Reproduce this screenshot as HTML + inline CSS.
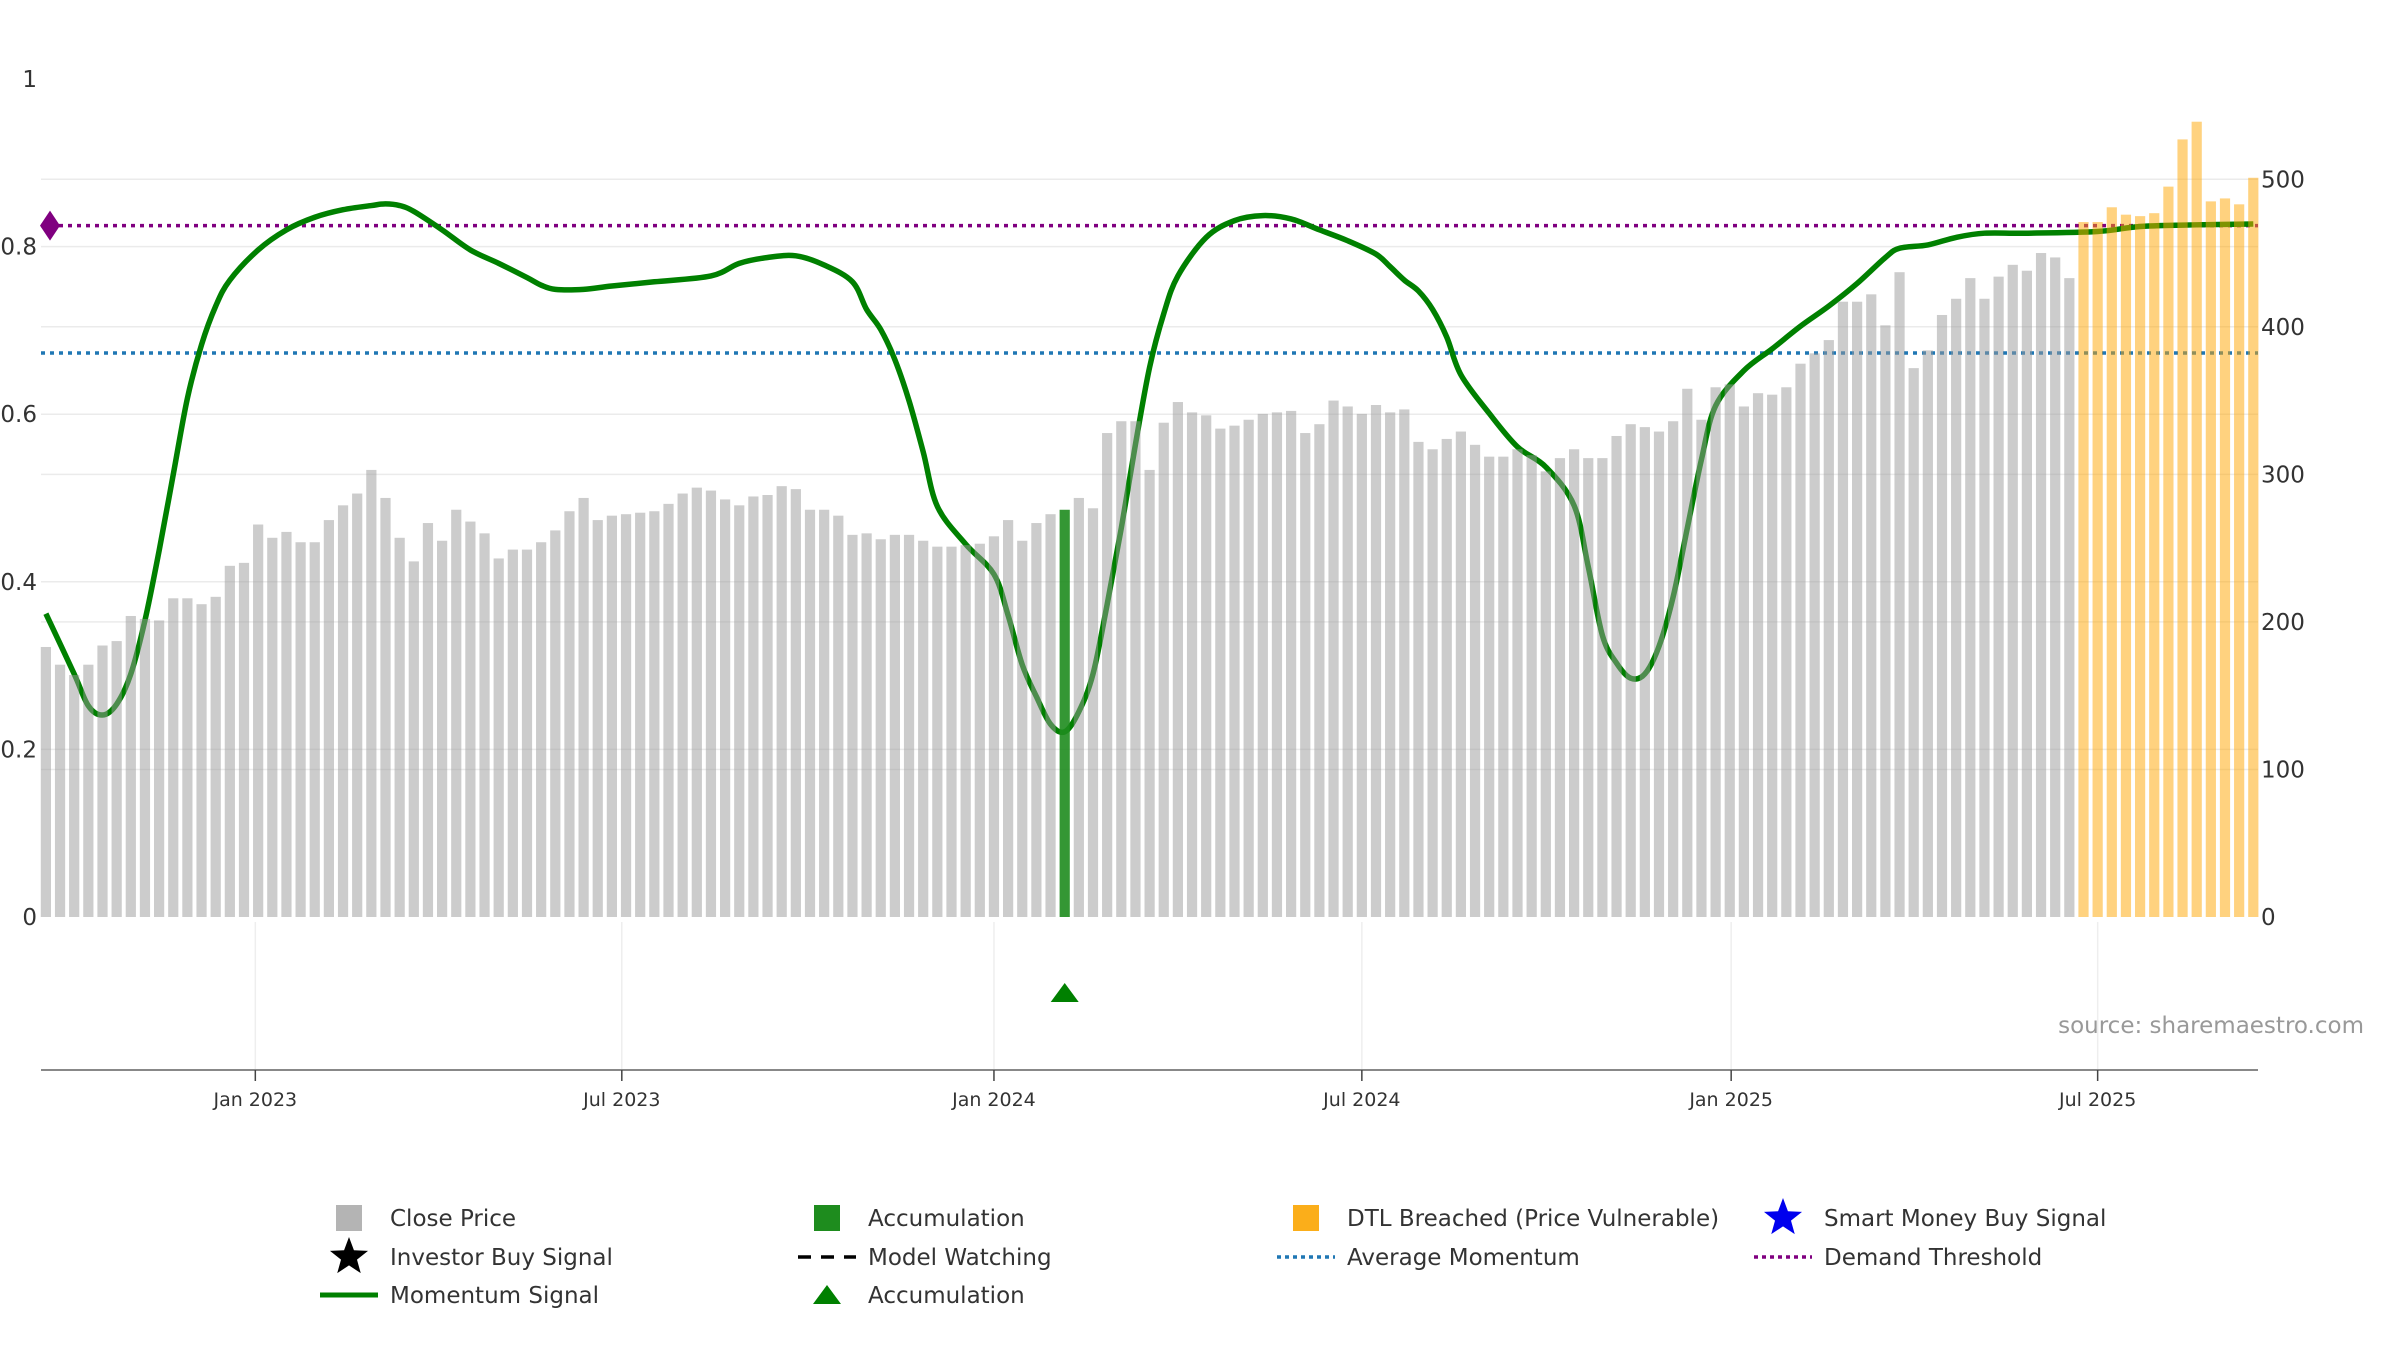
<!DOCTYPE html>
<html><head><meta charset="utf-8"><style>
html,body{margin:0;padding:0;background:#fff;width:2400px;height:1350px;overflow:hidden}
svg text{font-family:"DejaVu Sans","Liberation Sans",sans-serif}
</style></head><body>
<svg id="chart" width="2400" height="1350" viewBox="0 0 2400 1350" xmlns="http://www.w3.org/2000/svg">
<g id="grid"></g>
<g id="lines"></g>
<g id="bars"></g>
<g id="axes"></g>
<text x="2364" y="1033" text-anchor="end" font-size="23" fill="#999">source: sharemaestro.com</text>
<g id="legend"></g>
</svg>
<script>
const closePrices=[183,171,164,171,184,187,204,202,201,216,216,212,217,238,240,266,257,261,254,254,269,279,287,303,284,257,241,267,255,276,268,260,243,249,249,254,262,275,284,269,272,273,274,275,280,287,291,289,283,279,285,286,292,290,276,276,272,259,260,256,259,259,255,251,251,252,253,258,269,255,267,273,276,284,277,328,336,336,303,335,349,342,340,331,333,337,341,342,343,328,334,350,346,341,347,342,344,322,317,324,329,320,312,312,317,313,302,311,317,311,311,326,334,332,329,336,358,337,359,361,346,355,354,359,375,382,391,417,417,422,401,437,372,384,408,419,433,419,434,442,438,450,447,433,471,471,481,476,475,477,495,527,539,485,487,483,501];
const breachedStart=144;
const accumulationIndex=72;
const momentumIdx=[0,2,3,4,5,6,7,8,9,10,11,12,13,15,17,19,21,23,24,25,26,28,30,32,34,35,36,38,40,43,47,49,51,53,55,57,58,59,60,61,62,63,65,67,68,69,70,71,72,73,74,75,76,77,78,79,80,82,84,86,88,90,92,94,95,96,97,98,99,100,102,104,106,108,109,110,111,112,113,114,115,116,117,118,120,122,124,126,128,130,131,133,135,137,140,145,148,152,156];
const momentumVal=[0.362,0.29,0.252,0.241,0.254,0.29,0.354,0.437,0.528,0.619,0.683,0.729,0.76,0.796,0.82,0.835,0.844,0.849,0.851,0.849,0.842,0.82,0.796,0.78,0.763,0.754,0.749,0.749,0.753,0.758,0.765,0.78,0.787,0.789,0.778,0.758,0.725,0.701,0.665,0.616,0.555,0.49,0.445,0.409,0.36,0.301,0.263,0.23,0.221,0.245,0.29,0.373,0.464,0.564,0.656,0.72,0.765,0.811,0.831,0.837,0.833,0.82,0.807,0.791,0.776,0.76,0.747,0.725,0.692,0.647,0.601,0.561,0.537,0.491,0.418,0.336,0.303,0.285,0.29,0.323,0.382,0.464,0.546,0.61,0.652,0.678,0.705,0.729,0.756,0.787,0.798,0.802,0.811,0.816,0.816,0.818,0.824,0.826,0.827,0.824];
const averageMomentum=0.673;
const demandThreshold=0.825;
const leftTicks=[0,0.2,0.4,0.6,0.8,1];
const rightTicks=[0,100,200,300,400,500];
const monthLabels=["Jan 2023","Jul 2023","Jan 2024","Jul 2024","Jan 2025","Jul 2025"];
const monthIdx=[14.8,40.7,67.0,93.0,119.1,145.0];

const NS="http://www.w3.org/2000/svg";
const X0=45.9, STEP=14.15, BW=10.2, LEFT=41, RIGHT=2258, Y0=917;
const xs=i=>X0+i*STEP;
const yR=v=>Y0-v*1.4755;
const yL=v=>Y0-v*838;
function mk(p,tag,attrs){const e=document.createElementNS(NS,tag);for(const k in attrs)e.setAttribute(k,attrs[k]);p.appendChild(e);return e;}
const grid=document.getElementById('grid'),lines=document.getElementById('lines'),bars=document.getElementById('bars'),axes=document.getElementById('axes'),legend=document.getElementById('legend');

rightTicks.forEach(t=>{if(t===0)return;const l=mk(grid,'line',{x1:LEFT,x2:RIGHT,y1:yR(t),y2:yR(t),stroke:'#ebebeb','stroke-width':1.5});

});
leftTicks.forEach(t=>{if(t===0||t===1)return;const l=mk(grid,'line',{x1:LEFT,x2:RIGHT,y1:yL(t),y2:yL(t),stroke:'#ebebeb','stroke-width':1.5});

});
monthIdx.forEach(m=>{const l=mk(grid,'line',{x1:xs(m),x2:xs(m),y1:922,y2:1070,stroke:'#eeeeee','stroke-width':1.5});

});

let a=mk(lines,'line',{x1:LEFT,x2:RIGHT,y1:yL(averageMomentum),y2:yL(averageMomentum),stroke:'#1f77b4','stroke-width':3.5,'stroke-dasharray':'4 5'});


let d=mk(lines,'line',{x1:LEFT,x2:RIGHT,y1:yL(demandThreshold),y2:yL(demandThreshold),stroke:'#800080','stroke-width':3.5,'stroke-dasharray':'4 5'});


let dm=mk(lines,'path',{d:`M${LEFT-1} ${yL(demandThreshold)} l10 -15 l10 15 l-10 15z`,fill:'#800080'});



const pts=momentumIdx.map((i,k)=>[xs(i),yL(momentumVal[k])]);
let pd=`M${pts[0][0]} ${pts[0][1]}`;
for(let k=0;k<pts.length-1;k++){const p0=pts[Math.max(0,k-1)],p1=pts[k],p2=pts[k+1],p3=pts[Math.min(pts.length-1,k+2)];
const c1=[p1[0]+(p2[0]-p0[0])/6,p1[1]+(p2[1]-p0[1])/6],c2=[p2[0]-(p3[0]-p1[0])/6,p2[1]-(p3[1]-p1[1])/6];
pd+=` C${c1[0]} ${c1[1]} ${c2[0]} ${c2[1]} ${p2[0]} ${p2[1]}`;}
let ml=mk(lines,'path',{d:pd,fill:'none',stroke:'#008000','stroke-width':5.5,'stroke-linejoin':'round'});



closePrices.forEach((v,i)=>{
  const isAcc=i===accumulationIndex, br=i>=breachedStart;
  const r=mk(bars,'rect',{x:xs(i)-BW/2,y:yR(v),width:BW,height:Y0-yR(v),fill:isAcc?'#1e8c1e':(br?'#ffa500':'#999999'),'fill-opacity':isAcc?0.9:0.5});
  
  
});
let tri=mk(bars,'path',{d:`M${xs(accumulationIndex)} 983 l14 19 l-28 0z`,fill:'#008000'});



let ax=mk(axes,'line',{x1:LEFT,x2:RIGHT,y1:1070,y2:1070,stroke:'#888','stroke-width':2});


monthLabels.forEach((m,k)=>{
const tk=mk(axes,'line',{x1:xs(monthIdx[k]),x2:xs(monthIdx[k]),y1:1070,y2:1081,stroke:'#444','stroke-width':1.5});


const t=mk(axes,'text',{x:xs(monthIdx[k]),y:1106,'text-anchor':'middle','font-size':19,fill:'#333'});t.textContent=m;

});
leftTicks.forEach(t=>{const e=mk(axes,'text',{x:37,y:yL(t)+8,'text-anchor':'end','font-size':23,fill:'#333'});e.textContent=String(t);

});
rightTicks.forEach(t=>{const e=mk(axes,'text',{x:2261,y:yR(t)+8,'text-anchor':'start','font-size':23,fill:'#333'});e.textContent=String(t);

});

const rows=[1218,1257,1295], mx=[349,827,1306,1783], tx=[390,868,1347,1824];
function star(cx,cy,r,fill){let s='';for(let k=0;k<10;k++){const rr=k%2?r*0.42:r,ang=-Math.PI/2+k*Math.PI/5;s+=(k?'L':'M')+(cx+rr*Math.cos(ang))+' '+(cy+rr*Math.sin(ang));}return mk(legend,'path',{d:s+'Z',fill});}
const items=[
 [0,0,'Close Price','sq','#b4b4b4'],[1,0,'Accumulation','sq','#1e8c1e'],[2,0,'DTL Breached (Price Vulnerable)','sq','#fbae1a'],[3,0,'Smart Money Buy Signal','star','#0000ee'],
 [0,1,'Investor Buy Signal','star','#000'],[1,1,'Model Watching','dash','#000'],[2,1,'Average Momentum','dot','#1f77b4'],[3,1,'Demand Threshold','dot','#800080'],
 [0,2,'Momentum Signal','line','#008000'],[1,2,'Accumulation','tri','#008000']];
items.forEach(([c,r,label,type,col])=>{
  const cx=mx[c],cy=rows[r];let m;
  if(type==='sq')m=mk(legend,'rect',{x:cx-13,y:cy-13,width:26,height:26,fill:col});
  else if(type==='star')m=star(cx,cy,20,col);
  else if(type==='tri')m=mk(legend,'path',{d:`M${cx} ${cy-10} l14 19 l-28 0z`,fill:col});
  else if(type==='line')m=mk(legend,'line',{x1:cx-29,x2:cx+29,y1:cy,y2:cy,stroke:col,'stroke-width':5});
  else if(type==='dash')m=mk(legend,'line',{x1:cx-29,x2:cx+29,y1:cy,y2:cy,stroke:col,'stroke-width':3.5,'stroke-dasharray':'13 10'});
  else m=mk(legend,'line',{x1:cx-29,x2:cx+29,y1:cy,y2:cy,stroke:col,'stroke-width':3.5,'stroke-dasharray':'4 4'});
  
  
  const t=mk(legend,'text',{x:tx[c],y:cy+8,'font-size':23,fill:'#333'});t.textContent=label;
  
  
});
</script>
</body></html>
